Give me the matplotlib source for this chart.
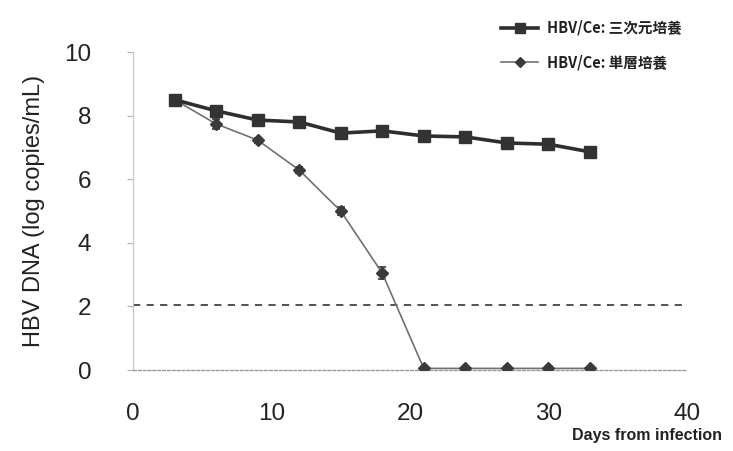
import matplotlib
matplotlib.use("Agg")
import matplotlib.pyplot as plt
from matplotlib.lines import Line2D

days = [3, 6, 9, 12, 15, 18, 21, 24, 27, 30, 33]
culture_3d = [8.5, 8.15, 7.86, 7.8, 7.45, 7.52, 7.36, 7.33, 7.14, 7.1, 6.86]
culture_3d_err = [0.15, 0.1, 0.08, 0.08, 0.08, 0.1, 0.08, 0.12, 0.08, 0.1, 0.1]
culture_mono = [8.5, 7.74, 7.23, 6.29, 5.0, 3.05, 0.05, 0.05, 0.05, 0.05, 0.05]
culture_mono_err = [0.15, 0.15, 0.08, 0.08, 0.12, 0.2, 0, 0, 0, 0, 0]
detection_limit = 2.05
label_3d = "HBV/Ce: 三次元培養"
label_mono = "HBV/Ce: 単層培養"
x_ticks = [0, 10, 20, 30, 40]
y_ticks = [0, 2, 4, 6, 8, 10]

fig = plt.figure(figsize=(7.33, 4.51), dpi=100)
ax = fig.add_axes([0.1814, 0.1796, 0.7556, 0.7051])

ax.errorbar(days, culture_3d, yerr=culture_3d_err, color="#2e2e2e", lw=2.6,
            marker="s", ms=8, mfc="#333333", mec="#333333",
            ecolor="#2e2e2e", elinewidth=1.2, capsize=3, capthick=1.2,
            zorder=4)
ax.errorbar(days, culture_mono, yerr=culture_mono_err, color="#707070", lw=1.2,
            marker="D", ms=6.5, mfc="#3a3a3a", mec="#3a3a3a",
            ecolor="#333333", elinewidth=1.2, capsize=3, capthick=1.2,
            zorder=3)

ax.axhline(detection_limit, color="#444444", lw=1.3, ls=(0, (4, 3.5)), zorder=2)

ax.set_xlim(0, 40)
ax.set_ylim(0, 10)
ax.set_xticks(x_ticks)
ax.set_yticks(y_ticks)

for s in ["top", "right"]:
    ax.spines[s].set_visible(False)
ax.spines["left"].set_color("#c8c8c8")
ax.spines["left"].set_linewidth(0.8)
ax.spines["bottom"].set_color("#9a9a9a")
ax.spines["bottom"].set_linewidth(1.0)
ax.spines["bottom"].set_linestyle((0, (2, 1.5)))

ax.tick_params(axis="y", length=4, color="#b0b0b0", pad=26, labelsize=17.5,
               labelcolor="#222222")
ax.tick_params(axis="x", length=0, pad=24, labelsize=17.5, labelcolor="#222222")
for lab in ax.get_xticklabels() + ax.get_yticklabels():
    lab.set_family(["Liberation Sans", "DejaVu Sans"])

ax.set_ylabel("HBV DNA (log copies/mL)", fontsize=17, color="#222222",
              family=["Liberation Sans", "DejaVu Sans"], labelpad=14)
fig.text(0.985, 0.018, "Days from infection", ha="right", va="bottom",
         fontsize=11.5, fontweight="bold", color="#222222",
         family=["Liberation Sans", "DejaVu Sans"])

handles = [
    Line2D([], [], color="#2e2e2e", lw=2.6, marker="s", ms=6.5,
           mfc="#333333", mec="#333333"),
    Line2D([], [], color="#707070", lw=1.2, marker="D", ms=5,
           mfc="#3a3a3a", mec="#3a3a3a"),
]
leg = fig.legend(handles, [label_3d, label_mono], loc="upper left",
                 bbox_to_anchor=(0.665, 0.985),
                 frameon=False, handlelength=2.6, handletextpad=0.6,
                 labelspacing=1.25,
                 prop={"family": ["Noto Sans CJK JP", "DejaVu Sans"],
                       "weight": "bold", "size": 10.5})
for t in leg.get_texts():
    t.set_color("#222222")

fig.savefig("out.png", dpi=100)
